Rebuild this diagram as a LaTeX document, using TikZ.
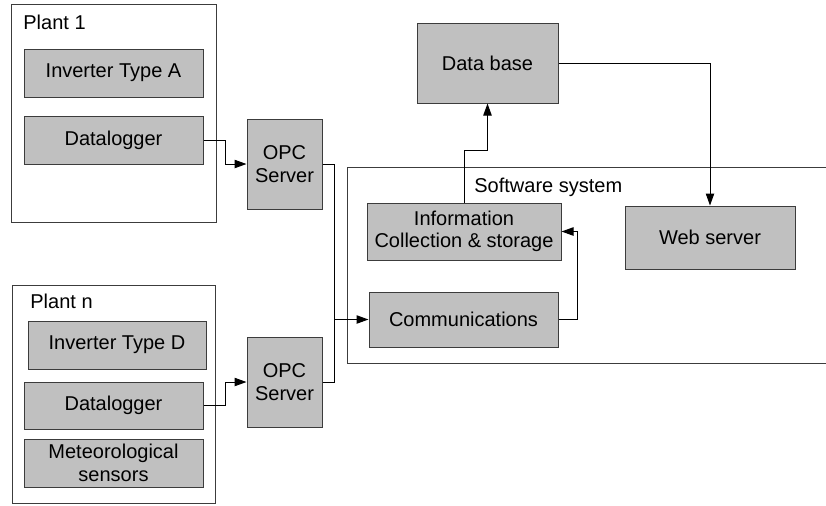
\documentclass[tikz,border=0pt]{standalone}
\usepackage{fontspec}
\setmainfont{Liberation Sans}
\usepackage{tikz}
\usetikzlibrary{arrows.meta,positioning,calc}
\definecolor{boxgray}{RGB}{192,192,192}
\definecolor{edgegray}{RGB}{60,60,60}

\begin{document}
\begin{tikzpicture}[x=0.5pt,y=-0.5pt,
  font=\fontsize{10}{11.2}\selectfont,
  >={Triangle[length=6pt,width=4.2pt]},
  unit/.style={draw=edgegray, fill=boxgray, line width=0.5pt, align=center, inner sep=0pt},
  frame/.style={draw=edgegray, line width=0.5pt, inner sep=0pt},
  tag/.style={inner sep=0pt, anchor=base west},
  link/.style={line width=0.5pt}]
\useasboundingbox (0,0) rectangle (826,505);

% LEFT TOP: Plant 1
\node[frame, minimum width=102.5pt, minimum height=109pt] (plantA) at (113.5,113) {};
\node[tag] (plantAlbl) at (23,29) {Plant 1};
\node[unit, minimum width=89.5pt, minimum height=24pt] (invA) at (113.5,73) {Inverter Type A};
\node[unit, minimum width=89.5pt, minimum height=24pt] (logA) at (113.5,140) {Datalogger};
\node[unit, minimum width=37.5pt, minimum height=45pt] (opcA) at (284.5,164) {OPC\\Server};

% LEFT BOTTOM: Plant n
\node[frame, minimum width=101.5pt, minimum height=109pt] (plantN) at (113.5,394) {};
\node[tag] (plantNlbl) at (30,308) {Plant n};
\node[unit, minimum width=89pt, minimum height=24pt] (invD) at (117,345) {Inverter Type D};
\node[unit, minimum width=89.5pt, minimum height=23.5pt] (logN) at (113.5,405.5) {Datalogger};
\node[unit, minimum width=89.5pt, minimum height=24pt] (meteo) at (113.5,463) {Meteorological\\sensors};
\node[unit, minimum width=37.5pt, minimum height=45pt] (opcN) at (284.5,382) {OPC\\Server};

% RIGHT: Software system, data base and web server
\draw[link, edgegray] (826,167) -- (347,167) -- (347,363) -- (826,363);
\node[tag] (softlbl) at (474,192) {Software system};
\node[unit, minimum width=97pt, minimum height=28.5pt] (info) at (464,231.5) {Information\\Collection \& storage};
\node[unit, minimum width=94.5pt, minimum height=27.5pt] (comm) at (463.5,319.5) {Communications};
\node[unit, minimum width=70.5pt, minimum height=40pt] (db) at (487.5,63) {Data base};
\node[unit, minimum width=85pt, minimum height=31.5pt] (web) at (710,237.5) {Web server};

% connectors
\coordinate (bus) at (334,319.5);
\draw[link,->] (logA.east) -- ++(22,0) |- (opcA.west);
\draw[link,->] (logN.east) -- ++(22,0) |- (opcN.west);
\draw[link] (opcA.east) -| (bus);
\draw[link] (opcN.east) -| (bus);
\draw[link,->] (bus) -- (comm.west);
\draw[link,->] (comm.east) -- ++(19,0) |- (info.east);
\draw[link,->] (info.north) -- ++(0,-52) -| (db.south);
\draw[link,->] (db.east) -| (web.north);
\end{tikzpicture}
\end{document}
